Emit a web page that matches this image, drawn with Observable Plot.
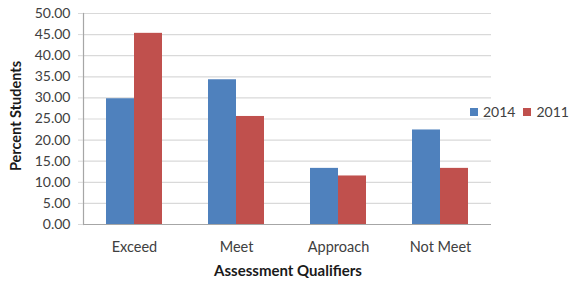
<!DOCTYPE html>
<html>
<head>
<meta charset="utf-8">
<script src="https://cdn.jsdelivr.net/npm/d3@7"></script>
<script src="https://cdn.jsdelivr.net/npm/@observablehq/plot@0.6"></script>
<style>
  html, body { margin: 0; padding: 0; background: #fff; }
  #wrap { position: relative; width: 572px; height: 286px; font-family: Lato, "Open Sans", sans-serif; }
  #legend { position: absolute; left: 470px; top: 103px; display: flex; align-items: center; font-size: 14px; color: #404040; }
  #legend .sw { width: 8px; height: 8px; display: inline-block; margin-right: 5px; }
  #legend .item { display: flex; align-items: center; margin-right: 8px; }
</style>
</head>
<body>
<div id="wrap"></div>
<script>
const categories = ["Exceed", "Meet", "Approach", "Not Meet"];
const series = ["2014", "2011"];
const values2014 = [29.8, 34.3, 13.3, 22.4];
const values2011 = [45.3, 25.6, 11.5, 13.3];
const colors = ["#4F81BD", "#C0504D"];
const yTicks = [0, 5, 10, 15, 20, 25, 30, 35, 40, 45, 50];

const data = [];
categories.forEach((c, i) => {
  data.push({category: c, series: series[0], value: values2014[i]});
  data.push({category: c, series: series[1], value: values2011[i]});
});

const chart = Plot.plot({
  width: 572,
  height: 286,
  marginLeft: 82,
  marginRight: 81,
  marginTop: 13,
  marginBottom: 62,
  style: {fontFamily: "Lato, 'Open Sans', sans-serif", fontSize: "13.5px", color: "#404040", background: "#fff"},
  fx: {domain: categories, padding: 0, label: null},
  x: {domain: series, paddingInner: 0, paddingOuter: 0.76, axis: null},
  y: {domain: [0, 50], label: null},
  color: {domain: series, range: colors},
  marks: [
    Plot.ruleY(yTicks, {stroke: "#d9d9d9", strokeWidth: 1.2}),
    Plot.barY(data, {fx: "category", x: "series", y: "value", fill: "series"}),
    Plot.ruleY([0], {stroke: "#a6a6a6", strokeWidth: 1.2}),
    Plot.frame({anchor: "left", facetAnchor: "left", stroke: "#a6a6a6", strokeWidth: 1.2}),
    Plot.axisY({ticks: yTicks, tickFormat: d => d.toFixed(2), tickSize: 5, tickPadding: 8, stroke: "#d9d9d9", fill: "#404040", label: null, fontSize: 14}),
    Plot.axisFx({anchor: "bottom", tickSize: 0, tickPadding: 17, label: null, fill: "#404040", fontSize: 14.5})
  ]
});

const wrap = document.getElementById("wrap");
wrap.appendChild(chart);

const svg = d3.select(chart);
svg.append("text")
  .attr("transform", "translate(17,116) rotate(-90)")
  .attr("text-anchor", "middle")
  .attr("dominant-baseline", "middle")
  .attr("font-weight", "bold")
  .attr("font-size", "14.5px")
  .attr("fill", "#1a1a1a")
  .text("Percent Students");
svg.append("text")
  .attr("x", 288)
  .attr("y", 272)
  .attr("text-anchor", "middle")
  .attr("dominant-baseline", "middle")
  .attr("font-weight", "bold")
  .attr("font-size", "15px")
  .attr("fill", "#1a1a1a")
  .text("Assessment Qualifiers");

const legend = document.createElement("div");
legend.id = "legend";
series.forEach((s, i) => {
  const item = document.createElement("span");
  item.className = "item";
  const sw = document.createElement("span");
  sw.className = "sw";
  sw.style.background = colors[i];
  item.appendChild(sw);
  item.appendChild(document.createTextNode(s));
  legend.appendChild(item);
});
wrap.appendChild(legend);
</script>
</body>
</html>
